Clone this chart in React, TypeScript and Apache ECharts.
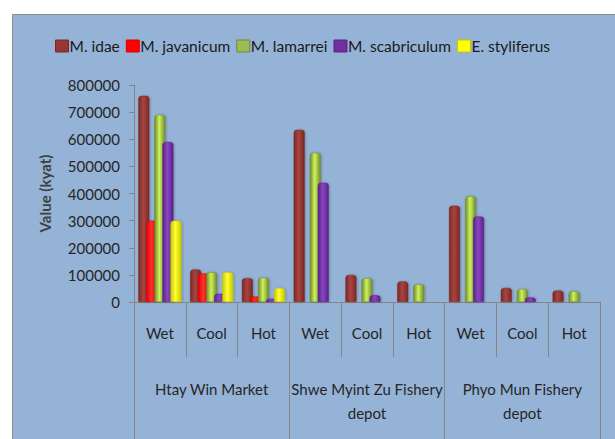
import React, { useEffect, useRef } from "react";
import * as echarts from "echarts";

const seasons = ["Wet", "Cool", "Hot", "Wet", "Cool", "Hot", "Wet", "Cool", "Hot"];
const markets = ["Htay Win Market", "Shwe Myint Zu Fishery\ndepot", "Phyo Mun Fishery\ndepot"];
const yTicks = [0, 100000, 200000, 300000, 400000, 500000, 600000, 700000, 800000];

const seriesNames = ["M. idae", "M. javanicum", "M. lamarrei", "M. scabriculum", "E. styliferus"];
const mIdae = [760000, 120000, 88000, 635000, 100000, 76000, 355000, 52000, 42000];
const mJavanicum = [300000, 105000, 20000, 0, 0, 0, 0, 0, 0];
const mLamarrei = [690000, 110000, 90000, 550000, 88000, 65000, 390000, 48000, 40000];
const mScabriculum = [590000, 30000, 12000, 440000, 25000, 0, 315000, 17000, 0];
const eStyliferus = [300000, 110000, 52000, 0, 0, 0, 0, 0, 0];

const seriesData = [mIdae, mJavanicum, mLamarrei, mScabriculum, eStyliferus];
const palette = [
  { edge: "#7a2826", mid: "#a8453f", base: "#953735" },
  { edge: "#e00000", mid: "#ff3030", base: "#ff0000" },
  { edge: "#6f8a2e", mid: "#cdf25a", base: "#9bbb59" },
  { edge: "#5a2288", mid: "#8a46c0", base: "#7030a0" },
  { edge: "#c8c800", mid: "#ffff30", base: "#ffff00" },
];

const FONT = "Lato, 'Liberation Sans', sans-serif";

export default function App() {
  const ref = useRef<HTMLDivElement>(null);
  useEffect(() => {
    if (!ref.current) return;
    const chart = echarts.init(ref.current, undefined, { renderer: "svg" });
    const grad = (p: { edge: string; mid: string }) =>
      new echarts.graphic.LinearGradient(0, 0, 1, 0, [
        { offset: 0, color: p.edge },
        { offset: 0.45, color: p.mid },
        { offset: 1, color: p.edge },
      ]);
    chart.setOption({
      animation: false,
      backgroundColor: "#ffffff",
      color: palette.map((p) => p.base),
      textStyle: { fontFamily: FONT },
      graphic: [
        {
          type: "rect",
          z: -10,
          shape: { x: 12.5, y: 14.5, width: 610, height: 430 },
          style: { fill: "#95b3d7", stroke: "#8c8c8c", lineWidth: 1 },
          silent: true,
        },
      ],
      legend: {
        top: 33,
        left: 50,
        itemWidth: 13,
        itemHeight: 12,
        itemGap: 6,
        icon: "rect",
        textStyle: { fontSize: 15.5, color: "#1a1a1a", fontFamily: FONT, padding: [0, 0, 0, -4] },
        data: seriesNames.map((name, i) => ({
          name,
          itemStyle: { color: palette[i].base, borderColor: palette[i].edge, borderWidth: 1 },
        })),
      },
      grid: { left: 134, right: 15, top: 85, bottom: 137, containLabel: false },
      xAxis: [
        {
          type: "category",
          data: seasons,
          position: "bottom",
          axisLine: { show: true, lineStyle: { color: "#868686" } },
          axisTick: { show: true, interval: 0, length: 55, lineStyle: { color: "#868686" } },
          axisLabel: {
            interval: 0,
            margin: 23,
            fontSize: 15,
            color: "#262626",
            fontFamily: FONT,
          },
        },
        {
          type: "category",
          data: markets,
          position: "bottom",
          axisLine: { show: false },
          axisTick: { show: true, interval: 0, length: 137, lineStyle: { color: "#868686" } },
          axisLabel: {
            interval: 0,
            margin: 75,
            fontSize: 15,
            lineHeight: 24,
            color: "#262626",
            fontFamily: FONT,
            hideOverlap: false,
          },
        },
      ],
      yAxis: {
        type: "value",
        min: 0,
        max: 800000,
        interval: 100000,
        name: "Value (kyat)",
        nameLocation: "middle",
        nameRotate: 90,
        nameGap: 82,
        nameTextStyle: { fontSize: 15, fontWeight: "bold", color: "#404040", fontFamily: FONT },
        axisLine: { show: true, lineStyle: { color: "#868686" } },
        axisTick: { show: true, length: 5, lineStyle: { color: "#868686" } },
        splitLine: { show: false },
        axisLabel: {
          margin: 14,
          fontSize: 15,
          color: "#262626",
          fontFamily: FONT,
          formatter: (v: number) => (yTicks.includes(v) ? String(v) : ""),
        },
      },
      series: seriesNames.map((name, i) => ({
        name,
        type: "bar",
        xAxisIndex: 0,
        data: seriesData[i],
        barWidth: 11,
        barGap: "-27%",
        itemStyle: {
          color: grad(palette[i]),
          borderColor: palette[i].edge,
          borderWidth: 0.5,
          borderRadius: [3, 3, 0, 0],
          shadowColor: "rgba(0,0,0,0.25)",
          shadowBlur: 2,
          shadowOffsetX: 1,
        },
      })),
    });
    return () => chart.dispose();
  }, []);
  return (
    <div
      ref={ref}
      style={{ position: "fixed", left: 0, top: 0, width: 615, height: 439 }}
    />
  );
}
